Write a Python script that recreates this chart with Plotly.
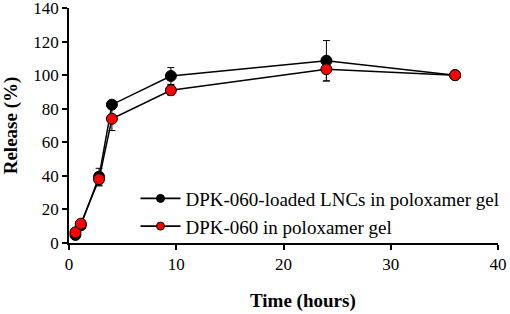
import plotly.graph_objects as go

time_h = [0.6, 1.1, 2.8, 4.0, 9.5, 24.0, 36.0]
lnc_release = [4.8, 10.5, 39.5, 82.4, 99.5, 108.6, 100.0]
lnc_err = [1.0, 1.0, 5.0, 2.0, 5.0, 12.0, 0.0]
free_release = [6.4, 11.5, 38.0, 74.0, 91.0, 103.5, 100.0]
free_err = [1.0, 1.0, 4.0, 7.0, 3.0, 7.0, 0.0]

names = ["DPK-060-loaded LNCs in poloxamer gel", "DPK-060 in poloxamer gel"]
colors = ["black", "#ff0000"]
x_title = "Time (hours)"
y_title = "Release (%)"

fig = go.Figure()
for nm, ys, es, col in [(names[0], lnc_release, lnc_err, colors[0]),
                        (names[1], free_release, free_err, colors[1])]:
    fig.add_trace(go.Scatter(
        x=time_h, y=ys, name=nm, mode="lines+markers", showlegend=False,
        line=dict(color="black", width=1.5),
        marker=dict(color=col, size=11, line=dict(color="black", width=1)),
        error_y=dict(type="data", array=es, color="black", thickness=1, width=3.5),
    ))
# legend entries (smaller symbols, as in the reference legend)
for nm, col in zip(names, colors):
    fig.add_trace(go.Scatter(
        x=[None], y=[None], name=nm, mode="lines+markers",
        line=dict(color="black", width=1.8),
        marker=dict(color=col, size=8, line=dict(color="black", width=1)),
    ))

ff = "Times New Roman, Liberation Serif, DejaVu Serif, serif"
tickfont = dict(family=ff, size=17, color="black")
titlefont = dict(family=ff, size=19, color="black")

fig.update_layout(
    width=510, height=314,
    margin=dict(l=69, r=12, t=8, b=71, autoexpand=False),
    paper_bgcolor="white", plot_bgcolor="white",
    font=dict(family=ff, size=17, color="black"),
    showlegend=True,
    legend=dict(x=0.155, y=0.27, xanchor="left", yanchor="top",
                font=dict(size=19, family=ff, color="black"),
                bgcolor="rgba(0,0,0,0)", itemwidth=40, tracegroupgap=0),
    xaxis=dict(range=[0, 40], tickvals=[0, 10, 20, 30, 40],
               showline=True, linecolor="black", linewidth=1.5,
               ticks="outside", ticklen=5, tickcolor="black", tickwidth=1.5,
               showgrid=False, zeroline=False, automargin=False,
               tickfont=tickfont, ticklabeloverflow="allow"),
    yaxis=dict(range=[0, 140], tickvals=[0, 20, 40, 60, 80, 100, 120, 140],
               showline=True, linecolor="black", linewidth=1.5,
               ticks="outside", ticklen=5, tickcolor="black", tickwidth=1.5,
               showgrid=False, zeroline=False, automargin=False,
               tickfont=tickfont, ticklabeloverflow="allow",
               title=dict(text="<b>" + y_title + "</b>", font=titlefont, standoff=12)),
    annotations=[dict(text="<b>" + x_title + "</b>", xref="paper", yref="paper",
                      x=0.545, y=-0.247, xanchor="center", yanchor="middle",
                      showarrow=False, font=titlefont)],
)

fig.write_html("out.html", config={"displayModeBar": False},
               post_script="document.body.style.margin='0';")
